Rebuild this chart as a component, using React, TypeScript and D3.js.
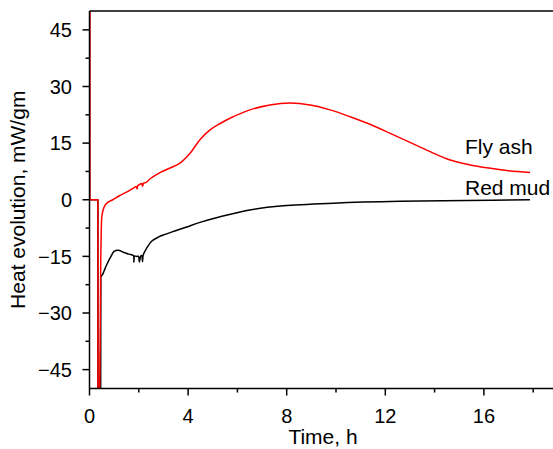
import React from "react";
import * as d3 from "d3";

// Time (h) and heat evolution (mW/gm)
const flyAshStartT = [0.02, 0.02, 0.34, 0.345, 0.4];
const flyAshStartV = [60, 0, 0, -60, -60];
const flyAshT = [0.4, 0.44, 0.47, 0.51, 0.6, 0.74, 0.94, 1.2, 1.5, 1.78, 1.9, 1.93, 1.96, 2.05, 2.12, 2.15, 2.2, 2.3, 2.45, 2.6, 2.86, 3.27, 3.67, 4.08, 4.48, 4.89, 5.3, 5.7, 6.51, 7.32, 8.13, 8.95, 9.76, 10.57, 11.38, 12.2, 13.0, 13.8, 14.6, 15.4, 16.2, 17.0, 17.87];
const flyAshV = [-60, -30, -10.6, -4, -1.8, -0.7, 0, 1.0, 2.0, 3.1, 3.5, 2.9, 3.7, 4.1, 4.3, 3.6, 4.4, 4.6, 5.5, 6.2, 7.2, 8.4, 9.7, 12.3, 15.9, 18.5, 20.2, 21.6, 23.8, 25.1, 25.6, 25.1, 23.8, 22.0, 20.0, 17.6, 15.2, 12.8, 10.6, 9.3, 8.4, 7.7, 7.2];

const redMudStartT = [0.0, 0.34, 0.345, 0.45, 0.46];
const redMudStartV = [0, 0, -60, -60, -20.3];
const redMudT = [0.46, 0.53, 0.67, 0.87, 1.0, 1.17, 1.37, 1.6, 1.78, 1.8, 1.83, 1.9, 1.99, 2.02, 2.08, 2.12, 2.15, 2.18, 2.32, 2.52, 2.79, 3.1, 3.4, 3.94, 4.48, 5.3, 6.5, 7.86, 9.89, 12.6, 15.3, 17.87];
const redMudV = [-20.3, -19.8, -17.6, -15, -13.7, -13.4, -13.9, -14.4, -14.8, -16.5, -14.9, -15, -15, -16.5, -14.9, -14.8, -16.4, -14.6, -12.8, -11, -9.9, -9.1, -8.4, -7.2, -6, -4.5, -2.7, -1.6, -0.9, -0.4, -0.2, 0];

const xMajor = [0, 4, 8, 12, 16];
const xMinor = [2, 6, 10, 14, 18];
const yMajor = [-45, -30, -15, 0, 15, 30, 45];
const yMinor = [-37.5, -22.5, -7.5, 7.5, 22.5, 37.5];
const seriesLabels = ["Fly ash", "Red mud"];

const W = 553;
const H = 449;
const left = 89.5;
const top = 11;
const bottom = 388.5;

export default function App() {
  const x = d3.scaleLinear().domain([0, 16]).range([left, left + 16 * 24.65]);
  const y = d3.scaleLinear().domain([-50, 50]).range([bottom, top]);
  const lin = d3
    .line<[number, number]>()
    .x((d) => x(d[0]))
    .y((d) => y(d[1]));
  const smooth = d3
    .line<[number, number]>()
    .x((d) => x(d[0]))
    .y((d) => y(d[1]))
    .curve(d3.curveCatmullRom.alpha(0.5));
  const zip = (a: number[], b: number[]) => a.map((t, i) => [t, b[i]] as [number, number]);
  const font = "'Liberation Sans', Arial, sans-serif";
  const fs = 20;
  const fl = 21;

  return (
    <svg
      width={W}
      height={H}
      style={{ position: "absolute", left: 0, top: 0, background: "#fff" }}
      fontFamily={font}
    >
      <defs>
        <clipPath id="plot">
          <rect x={left} y={top} width={W - left + 10} height={bottom - top} />
        </clipPath>
      </defs>
      <rect x={0} y={0} width={W} height={H} fill="#fff" />
      <g clipPath="url(#plot)" fill="none" strokeWidth={1.5} strokeLinejoin="round">
        <path d={lin(zip(redMudStartT, redMudStartV)) || ""} stroke="#000" />
        <path d={smooth(zip(redMudT, redMudV)) || ""} stroke="#000" />
        <path d={lin(zip(flyAshStartT, flyAshStartV)) || ""} stroke="#ff0000" />
        <path d={smooth(zip(flyAshT, flyAshV)) || ""} stroke="#ff0000" />
      </g>
      {/* axes frame */}
      <line x1={left} x2={W + 5} y1={top} y2={top} stroke="#000" strokeWidth={1.5} />
      <line x1={left} x2={W + 5} y1={bottom} y2={bottom} stroke="#000" strokeWidth={1.5} />
      <line x1={left} x2={left} y1={top} y2={bottom} stroke="#000" strokeWidth={1.5} />
      {/* y ticks */}
      {yMajor.map((v) => (
        <g key={"ym" + v}>
          <line x1={left - 7} x2={left} y1={y(v)} y2={y(v)} stroke="#000" strokeWidth={1.5} />
          <text x={72} y={y(v)} dy="0.36em" textAnchor="end" fontSize={fs}>
            {v < 0 ? "\u2212" + Math.abs(v) : String(v)}
          </text>
        </g>
      ))}
      {yMinor.map((v) => (
        <line key={"yn" + v} x1={left - 4} x2={left} y1={y(v)} y2={y(v)} stroke="#000" strokeWidth={1.5} />
      ))}
      {/* x ticks */}
      {xMajor.map((t) => (
        <g key={"xm" + t}>
          <line x1={x(t)} x2={x(t)} y1={bottom} y2={bottom + 7} stroke="#000" strokeWidth={1.5} />
          <text x={x(t)} y={422.5} textAnchor="middle" fontSize={fs}>
            {t}
          </text>
        </g>
      ))}
      {xMinor.map((t) => (
        <line key={"xn" + t} x1={x(t)} x2={x(t)} y1={bottom} y2={bottom + 4} stroke="#000" strokeWidth={1.5} />
      ))}
      {/* axis titles */}
      <text x={323} y={444} textAnchor="middle" fontSize={fl}>
        Time, h
      </text>
      <text
        transform={`translate(25, ${(top + bottom) / 2}) rotate(-90)`}
        textAnchor="middle"
        fontSize={fl}
      >
        Heat evolution, mW/gm
      </text>
      {/* series labels */}
      <text x={465} y={154} fontSize={fl}>
        {seriesLabels[0]}
      </text>
      <text x={465} y={195} fontSize={fl}>
        {seriesLabels[1]}
      </text>
    </svg>
  );
}
